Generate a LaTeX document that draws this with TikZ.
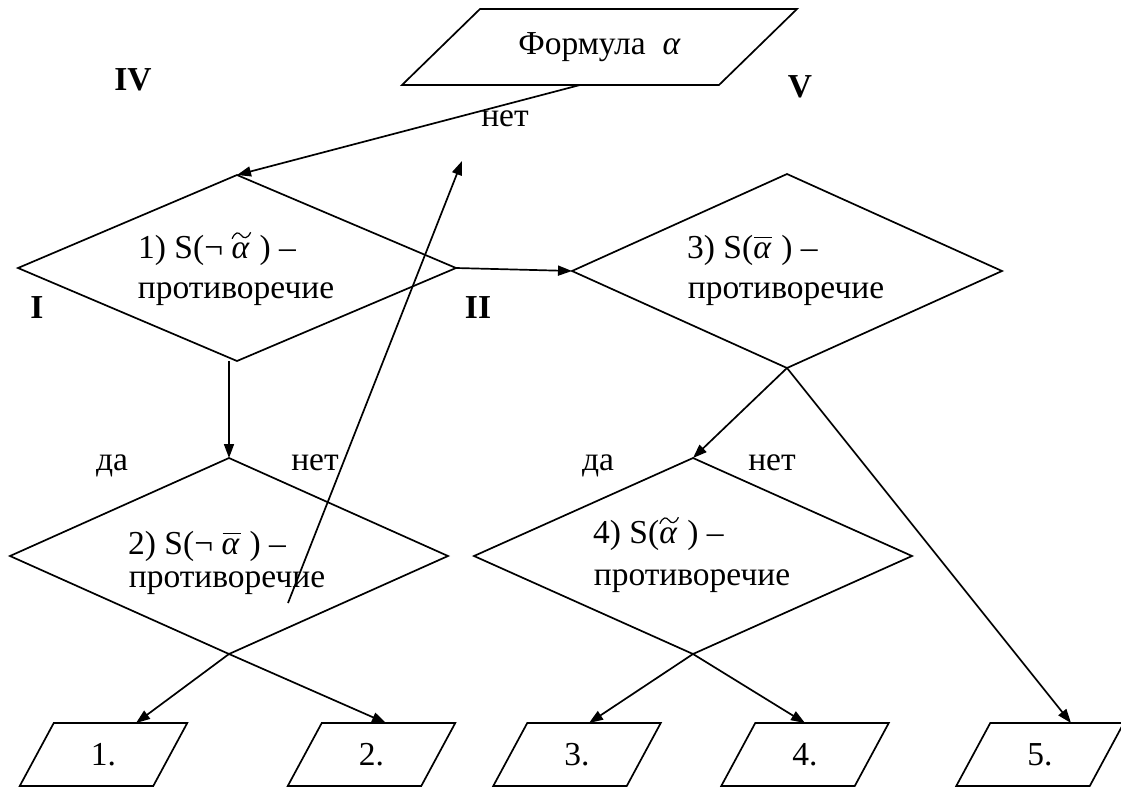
\documentclass[tikz,border=0pt]{standalone}
\usepackage{fontspec}
\setmainfont{Liberation Serif}
\usetikzlibrary{shapes.geometric,arrows.meta}

% alpha with a drawn tilde / bar above it
\newcommand{\alphatilde}{\tikz[baseline=(al.base), x=1pt, y=1pt, line width=1.2pt]{%
  \node[inner sep=0pt, outer sep=0pt, font=\fontsize{33.5}{40}\selectfont\itshape] (al) {α};
  \begin{scope}[shift={(al.north west)}]
    \draw (0.5,3.5) .. controls (3.5,10.5) and (7,10.5) .. (9.5,7) .. controls (12,3.5) and (16,3) .. (19,10);
  \end{scope}}}
\newcommand{\alphabar}{\tikz[baseline=(al.base), x=1pt, y=1pt, line width=1.2pt]{%
  \node[inner sep=0pt, outer sep=0pt, font=\fontsize{33.5}{40}\selectfont\itshape] (al) {α};
  \draw ([xshift=1pt,yshift=5pt]al.north west) -- ([xshift=1.5pt,yshift=5pt]al.north east);}}

% parallelogram drawn round a (borderless) node: #1 node name, #2 half of the slant
\newcommand{\drawpara}[2]{%
  \draw ([xshift=#2]#1.north west) -- ([xshift=#2]#1.north east)
    -- ([xshift=-#2]#1.south east) -- ([xshift=-#2]#1.south west) -- cycle;}

\begin{document}
\begin{tikzpicture}[x=1pt, y=-1pt, line width=1.7pt,
  txt/.style={font=\fontsize{33.5}{40}\selectfont, inner sep=0pt},
  roman/.style={font=\fontsize{33.5}{40}\selectfont\bfseries, inner sep=0pt},
  test/.style={draw, diamond, minimum width=438pt, inner sep=0pt, outer sep=0pt},
  iobox/.style={rectangle, inner sep=0pt, outer sep=0pt, font=\fontsize{33.5}{40}\selectfont},
  result/.style={iobox, minimum width=133.5pt, minimum height=63pt},
  arr/.style={-{Triangle[length=14pt,width=10pt]}}
]
\useasboundingbox (0,0) rectangle (1121,787);
\clip (0,0) rectangle (1121,787);

% input formula
\node[iobox, minimum width=317pt, minimum height=76pt] (formula) at (599.5,47) {Формула \ \textit{α}};
\drawpara{formula}{39pt}

% the four tests
\node[test, minimum height=186pt] (d1) at (237,268) {};
\node[test, minimum height=196pt] (d2) at (229,556) {};
\node[test, minimum width=430pt, minimum height=194pt] (d3) at (787,271) {};
\node[test, minimum height=196pt] (d4) at (693,556) {};

\node[txt, anchor=base west] (d1a) at (138,258) {1) S(¬ \alphatilde\ ) –};
\node[txt, anchor=base west] (d1b) at (137,298) {противоречие};
\node[txt, anchor=base west] (d2a) at (128,554) {2) S(¬ \alphabar\ ) –};
\node[txt, anchor=base west] (d2b) at (128,587) {противоречие};
\node[txt, anchor=base west] (d3a) at (687,258) {3) S(\alphabar\ ) –};
\node[txt, anchor=base west] (d3b) at (687,298) {противоречие};
\node[txt, anchor=base west] (d4a) at (593,543) {4) S(\alphatilde\ ) –};
\node[txt, anchor=base west] (d4b) at (593,585) {противоречие};

% outcomes
\node[result] (b1) at (103.5,754.5) {1.};
\node[result] (b2) at (371.5,754.5) {2.};
\node[result] (b3) at (577,754.5) {3.};
\node[result] (b4) at (805,754.5) {4.};
\node[result] (b5) at (1040,754.5) {5.};
\foreach \b in {b1,b2,b3,b4,b5} {\drawpara{\b}{17pt}}

% case labels
\node[roman, anchor=base] (lIV) at (133,90) {IV};
\node[roman, anchor=base] (lV) at (800,97) {V};
\node[roman, anchor=base] (lI) at (37,318) {I};
\node[roman, anchor=base] (lII) at (478,318) {II};

% answer labels
\node[txt, anchor=base] (no0) at (505,126) {нет};
\node[txt, anchor=base] (yes2) at (112,470) {да};
\node[txt, anchor=base] (no2) at (315,470) {нет};
\node[txt, anchor=base] (yes4) at (598,470) {да};
\node[txt, anchor=base] (no4) at (772,470) {нет};

% connectors
\draw[arr] ([xshift=-19.5pt]formula.south) -- (d1.north);
\draw[arr] (d2.north |- d1.south) -- (d2.north);
\draw[arr] (d1.east) -- (d3.west);
\draw[arr] (d3.south) -- (d4.north);
\draw[arr] (d3.south) -- ([xshift=31pt]b5.north);
\draw[arr] (d2.south) -- ([xshift=32.5pt]b1.north);
\draw[arr] (d2.south) -- ([xshift=14.5pt]b2.north);
\draw[arr] (d4.south) -- ([xshift=12pt]b3.north);
\draw[arr] (d4.south) -- (b4.north);
\coordinate (backfrom) at (288,603);
\coordinate (backto) at (462,161);
\draw[arr] (backfrom) -- (backto);
\end{tikzpicture}
\end{document}
